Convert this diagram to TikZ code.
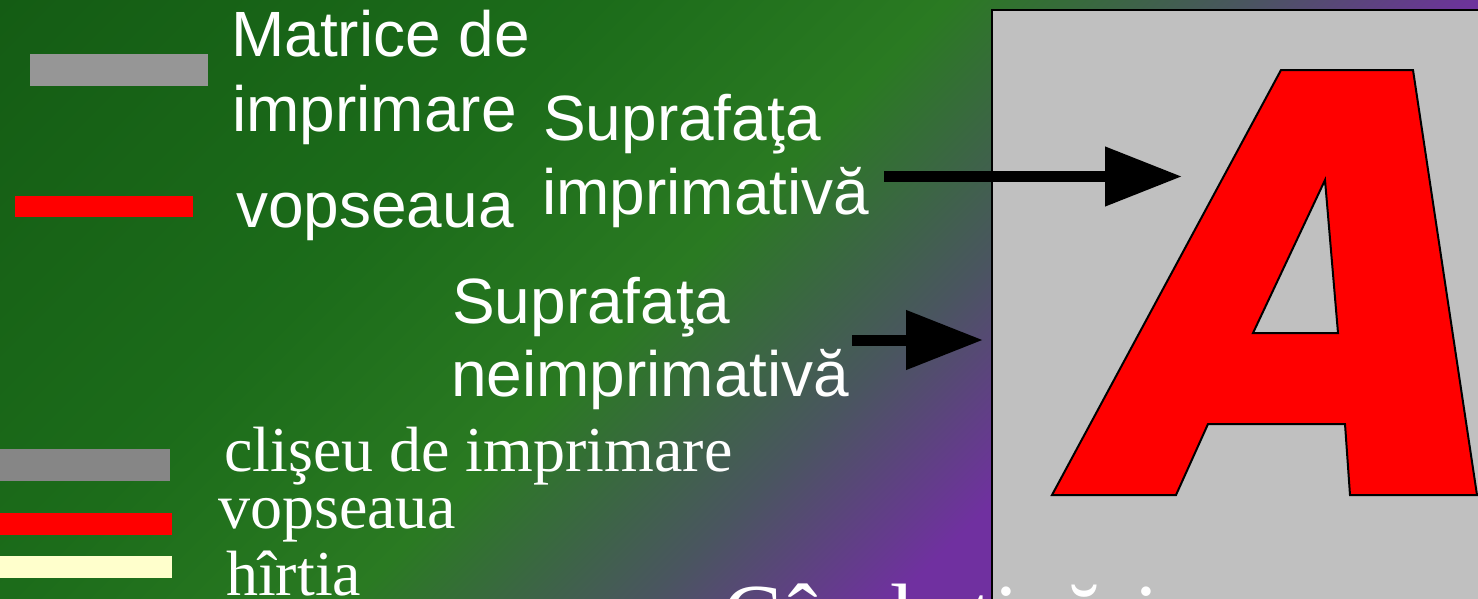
\documentclass[tikz,border=0pt]{standalone}
\usepackage{fontspec}
\setmainfont{Liberation Serif}
\newfontfamily\arialf{Liberation Sans}
\usetikzlibrary{arrows.meta}
\definecolor{bgA}{HTML}{145C14}
\definecolor{bgB}{HTML}{1C6C1A}
\definecolor{bgC}{HTML}{2A7A22}
\definecolor{bgD}{HTML}{4A5560}
\definecolor{bgE}{HTML}{7030A0}
\definecolor{plate}{HTML}{C0C0C0}
\definecolor{matgray}{HTML}{969696}
\definecolor{clgray}{HTML}{868686}
\definecolor{paper}{HTML}{FFFFCC}
\pgfdeclarehorizontalshading{bgshade}{100bp}{color(0bp)=(bgA); color(25bp)=(bgA); color(39.5bp)=(bgB); color(47.9bp)=(bgC); color(55.1bp)=(bgD); color(61bp)=(bgE); color(100bp)=(bgE)}
\begin{document}
\begin{tikzpicture}[x=1pt,y=-1pt,
  sanslab/.style={text=white, font=\arialf\fontsize{64}{74}\selectfont, inner sep=0pt, anchor=base west},
  seriflab/.style={text=white, font=\fontsize{64}{74}\selectfont, inner sep=0pt, anchor=base west},
  biglab/.style={text=white, font=\fontsize{90}{100}\selectfont, inner sep=0pt, anchor=base west},
  bigarrow/.style={line width=11pt, -{Triangle[length=77pt,width=57pt]}},
  letterA/.style={fill=red, draw=black, line width=2pt, even odd rule, line join=miter}]
\useasboundingbox (0,0) rectangle (1478,598);
\begin{scope}
\clip (0,0) rectangle (1478,598);
\shade[shading=bgshade, shading angle=-45] (0,-440) rectangle (1478,1038);
% legend bars
\fill[matgray] (30,54) rectangle (208,86);
\fill[red] (15,196) rectangle (193,217);
\fill[clgray] (0,449) rectangle (170,481);
\fill[red] (0,513) rectangle (172,535);
\fill[paper] (0,556) rectangle (172,578);
% plate
\draw[fill=plate, draw=black, line width=1.8pt] (992,10) rectangle (1492,612);
% letter A
\draw[letterA] (1052,495) -- (1281,70) -- (1413,70) -- (1477,495) -- (1350,495) -- (1345,424) -- (1208,424) -- (1176,495) -- cycle
  (1325,180) -- (1338,333) -- (1253,333) -- cycle;
% labels
\node[sanslab] (tm1) at (231,56) {Matrice de};
\node[sanslab] (tm2) at (232,131) {imprimare};
\node[sanslab] (tv) at (236,227) {vopseaua};
\node[sanslab] (ts1) at (543,140) {Suprafaţa};
\node[sanslab] (ts2) at (542,214) {imprimativă};
\node[sanslab] (tn1) at (452,323) {Suprafaţa};
\node[sanslab] (tn2) at (451,396) {neimprimativă};
\node[seriflab] (tc) at (224,471) {clişeu de imprimare};
\node[seriflab] (tv2) at (218,528) {vopseaua};
\node[seriflab] (th) at (226,595) {hîrtia};
% arrows
\coordinate (a1s) at (884,176.5);
\coordinate (a1e) at (1182,176.5);
\coordinate (a2s) at (852,340);
\coordinate (a2e) at (983,340);
\draw[bigarrow] (a1s) -- (a1e);
\draw[bigarrow] (a2s) -- (a2e);
% bottom text
\node[biglab] (tb) at (722,646) {Când\hspace{57pt}tipărim};
\end{scope}
\end{tikzpicture}
\end{document}
